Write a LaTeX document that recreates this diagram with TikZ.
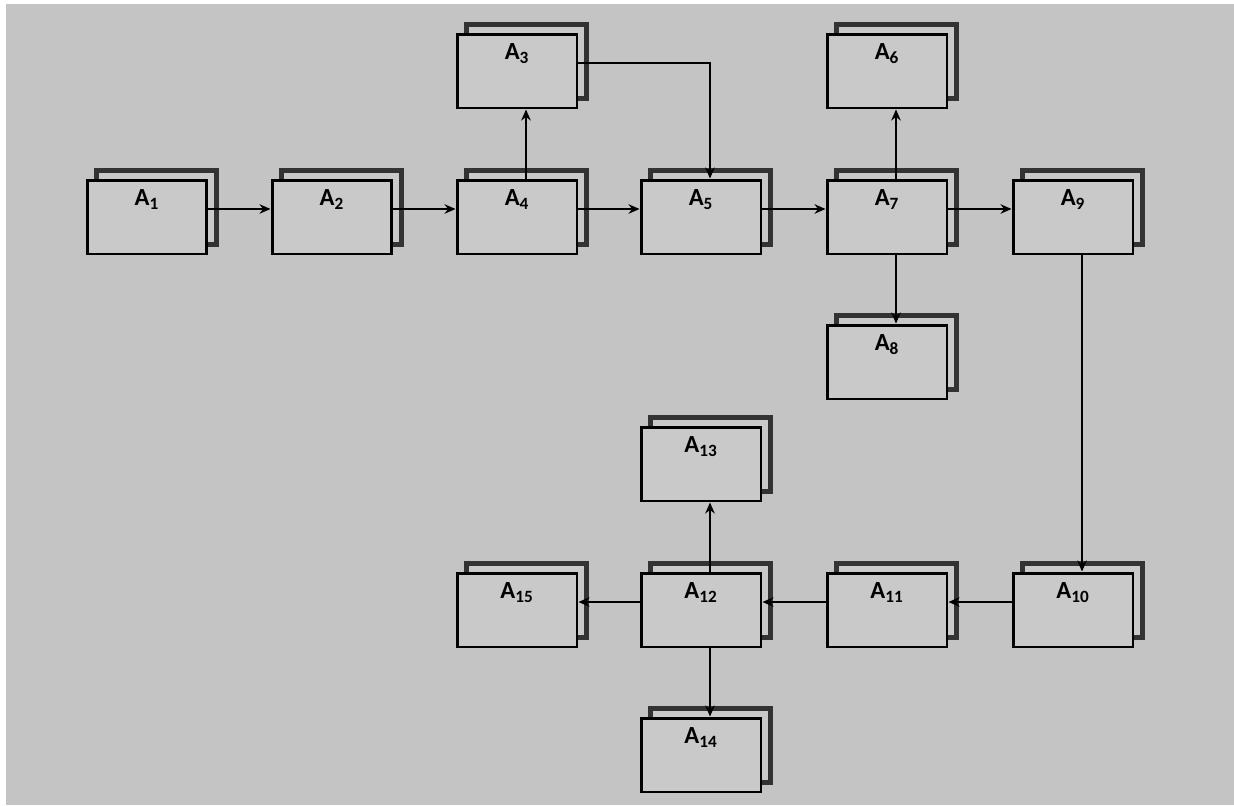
\documentclass[tikz,border=0pt]{standalone}
\usepackage{fontspec}
\setmainfont{Carlito}
\usetikzlibrary{arrows.meta}
\definecolor{bggray}{RGB}{196,196,196}
\definecolor{boxgray}{RGB}{201,201,201}
\begin{document}
\begin{tikzpicture}[x=0.02cm,y=-0.02cm,
  card/.style={rectangle, draw=black, line width=1.7pt, fill=boxgray,
    minimum width=2.4cm, minimum height=1.48cm, inner sep=0pt,
    preaction={draw=black!80, line width=2.4pt, fill=boxgray,
      transform canvas={shift={(0.19cm,0.19cm)}}}},
  tag/.style={font=\bfseries\fontsize{14}{16}\selectfont, anchor=center, yshift=-0.42cm},
  flow/.style={line width=1.2pt, -{Stealth[length=0.22cm,width=0.19cm]}},
  hs/.style={yshift=0.16cm},
  vs/.style={xshift=0.18cm},
]
\useasboundingbox (0,0) rectangle (1234,805);
\fill[white] (0,0) rectangle (1234,805);
\fill[bggray] (6,4) rectangle (1234,805);

% main row
\node[card, label={[tag]north:A\textsubscript{1}}] (a1) at (147,217) {};
\node[card, label={[tag]north:A\textsubscript{2}}] (a2) at (332,217) {};
\node[card, label={[tag]north:A\textsubscript{4}}] (a4) at (517,217) {};
\node[card, label={[tag]north:A\textsubscript{5}}] (a5) at (701,217) {};
\node[card, label={[tag]north:A\textsubscript{7}}] (a7) at (887,217) {};
\node[card, label={[tag]north:A\textsubscript{9}}] (a9) at (1073,217) {};
% branches of the main row
\node[card, label={[tag]north:A\textsubscript{3}}] (a3) at (517,71) {};
\node[card, label={[tag]north:A\textsubscript{6}}] (a6) at (887,71) {};
\node[card, label={[tag]north:A\textsubscript{8}}] (a8) at (887,362) {};
% lower row
\node[card, label={[tag]north:A\textsubscript{10}}] (a10) at (1073,610) {};
\node[card, label={[tag]north:A\textsubscript{11}}] (a11) at (887,610) {};
\node[card, label={[tag]north:A\textsubscript{12}}] (a12) at (701,610) {};
\node[card, label={[tag]north:A\textsubscript{15}}] (a15) at (517,610) {};
\node[card, label={[tag]north:A\textsubscript{13}}] (a13) at (701,464) {};
\node[card, label={[tag]north:A\textsubscript{14}}] (a14) at (701,755) {};

% connectors
\draw[flow] ([hs]a1.east) -- ([hs]a2.west);
\draw[flow] ([hs]a2.east) -- ([hs]a4.west);
\draw[flow] ([hs]a4.east) -- ([hs]a5.west);
\draw[flow] ([hs]a5.east) -- ([hs]a7.west);
\draw[flow] ([hs]a7.east) -- ([hs]a9.west);
\draw[flow] ([vs]a4.north) -- ([vs]a3.south);
\draw[flow] ([hs]a3.east) -| ([vs]a5.north);
\draw[flow] ([vs]a7.north) -- ([vs]a6.south);
\draw[flow] ([vs]a7.south) -- ([vs]a8.north);
\draw[flow] ([vs]a9.south) -- ([vs]a10.north);
\draw[flow] ([hs]a10.west) -- ([hs]a11.east);
\draw[flow] ([hs]a11.west) -- ([hs]a12.east);
\draw[flow] ([hs]a12.west) -- ([hs]a15.east);
\draw[flow] ([vs]a12.north) -- ([vs]a13.south);
\draw[flow] ([vs]a12.south) -- ([vs]a14.north);
\end{tikzpicture}
\end{document}
